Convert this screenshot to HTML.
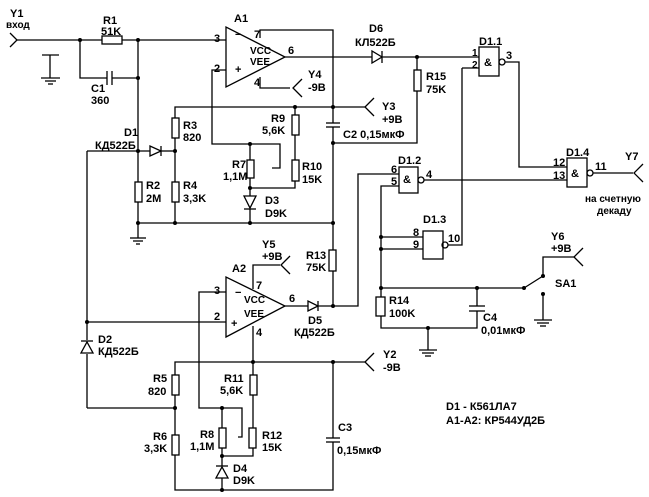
<!DOCTYPE html>
<html><head><meta charset="utf-8"><style>
html,body{margin:0;padding:0;background:#fff}
svg{display:block}
text{font-family:"Liberation Sans","DejaVu Sans",sans-serif;font-size:11px;font-weight:bold;fill:#000}
.s{font-size:10px}
</style></head><body>
<svg width="649" height="497" viewBox="0 0 649 497" xmlns="http://www.w3.org/2000/svg">
<g stroke="#000" stroke-width="1.3" fill="none">
<!-- Y1 input -->
<polyline points="10,33 17,40 10,47"/>
<line x1="17" y1="40" x2="102" y2="40"/>
<line x1="122" y1="40" x2="226" y2="40"/>
<rect x="102" y="36" width="20" height="8"/>
<!-- C1 -->
<polyline points="80,40 80,78 107,78"/>
<line x1="107" y1="71" x2="107" y2="85"/><line x1="112" y1="71" x2="112" y2="85"/>
<line x1="112" y1="78" x2="138" y2="78"/>
<line x1="138" y1="40" x2="138" y2="182"/>
<!-- stray ground -->
<line x1="42" y1="55" x2="59" y2="55"/><line x1="50" y1="55" x2="50" y2="78"/>
<line x1="41" y1="78" x2="60" y2="78"/><line x1="45" y1="81" x2="56" y2="81"/><line x1="48" y1="84" x2="53" y2="84"/>
<!-- A1 -->
<polygon points="226,27 226,87 285,57"/>
<polyline points="260,38 260,30 333,30 333,123"/>
<line x1="285" y1="57" x2="372" y2="57"/>
<polyline points="260,77 260,88 290,88"/>
<polyline points="302,79 293,88 302,97"/>
<polyline points="226,70 212,70 212,144 280,144 280,168 272,168"/>
<!-- D6 -->
<polygon points="372,51 372,63 382,57"/><line x1="382" y1="51" x2="382" y2="63"/>
<line x1="382" y1="57" x2="479" y2="57"/>
<polyline points="417,57 417,70"/><rect x="414" y="70" width="7" height="21"/>
<polyline points="417,91 417,143 333,143"/>
<!-- C2 -->
<line x1="326" y1="123" x2="340" y2="123"/><line x1="326" y1="127" x2="340" y2="127"/>
<line x1="333" y1="127" x2="333" y2="250"/>
<!-- Y3 line -->
<polyline points="175,118 175,107 365,107"/>
<polyline points="374,98 365,107 374,116"/>
<!-- R9, R10 -->
<line x1="295" y1="107" x2="295" y2="115"/><rect x="292" y="115" width="7" height="20"/>
<line x1="295" y1="135" x2="295" y2="160"/><rect x="292" y="160" width="7" height="21"/>
<polyline points="295,181 295,188 250,188"/>
<!-- R7 -->
<line x1="250" y1="144" x2="250" y2="160"/><rect x="247" y="160" width="7" height="18"/>
<line x1="250" y1="178" x2="250" y2="196"/>
<!-- D3 zener -->
<polygon points="244,196 256,196 250,208"/><line x1="244" y1="209" x2="256" y2="209"/>
<line x1="250" y1="209" x2="250" y2="223"/>
<line x1="138" y1="223" x2="333" y2="223"/>
<!-- D1 area -->
<line x1="87" y1="151" x2="150" y2="151"/>
<polygon points="150,146 150,156 161,151"/><line x1="161" y1="146" x2="161" y2="156"/>
<line x1="161" y1="151" x2="175" y2="151"/>
<rect x="172" y="118" width="7" height="20"/><line x1="175" y1="138" x2="175" y2="182"/>
<rect x="172" y="182" width="7" height="20"/><line x1="175" y1="202" x2="175" y2="223"/>
<rect x="135" y="182" width="7" height="20"/><line x1="138" y1="202" x2="138" y2="238"/>
<line x1="130" y1="238" x2="146" y2="238"/><line x1="133" y1="241" x2="143" y2="241"/><line x1="136" y1="244" x2="140" y2="244"/>
<line x1="87" y1="151" x2="87" y2="340"/>
<line x1="87" y1="354" x2="87" y2="408"/><line x1="87" y1="408" x2="175" y2="408"/>
<!-- D2 -->
<polygon points="81,353 93,353 87,342"/><line x1="81" y1="341" x2="93" y2="341"/>
<!-- A2 -->
<line x1="87" y1="322" x2="226" y2="322"/>
<polygon points="226,277 226,337 285,306"/>
<polyline points="253,289 253,265 280,265"/>
<polyline points="290,256 281,265 290,274"/>
<line x1="285" y1="306" x2="308" y2="306"/>
<polygon points="308,301 308,311 318,306"/><line x1="318" y1="301" x2="318" y2="311"/>
<polyline points="318,306 358,306 358,174 399,174"/>
<rect x="329" y="250" width="7" height="21"/><line x1="333" y1="271" x2="333" y2="306"/>
<polyline points="226,292 199,292 199,408 242,408 242,437 238,437"/>
<line x1="253" y1="326" x2="253" y2="375"/>
<polyline points="175,375 175,362 365,362"/>
<polyline points="374,353 365,362 374,371"/>
<rect x="250" y="375" width="7" height="20"/><line x1="253" y1="395" x2="253" y2="428"/>
<rect x="249" y="428" width="7" height="20"/><polyline points="253,448 253,456 222,456"/>
<line x1="222" y1="408" x2="222" y2="428"/><rect x="219" y="428" width="7" height="20"/><line x1="222" y1="448" x2="222" y2="466"/>
<polygon points="216,478 228,478 222,467"/><line x1="216" y1="466" x2="228" y2="466"/>
<line x1="222" y1="478" x2="222" y2="490"/>
<rect x="172" y="375" width="7" height="20"/><line x1="175" y1="395" x2="175" y2="435"/>
<rect x="172" y="435" width="7" height="20"/><polyline points="175,455 175,490 333,490 333,442"/>
<line x1="333" y1="362" x2="333" y2="438"/>
<line x1="326" y1="438" x2="340" y2="438"/><line x1="326" y1="442" x2="340" y2="442"/>
<!-- Gates -->
<rect x="479" y="47" width="20" height="29"/><circle cx="502" cy="62" r="3"/>
<line x1="479" y1="68" x2="462" y2="68"/><polyline points="462,68 462,245 448,245"/>
<polyline points="505,62 519,62 519,167 567,167"/>
<rect x="567" y="158" width="20" height="29"/><circle cx="590" cy="173" r="3"/>
<line x1="593" y1="173" x2="633" y2="173"/><polyline points="643,164 634,173 643,182"/>
<rect x="399" y="167" width="19" height="26"/><circle cx="421" cy="180" r="3"/>
<line x1="424" y1="180" x2="567" y2="180"/>
<polyline points="399,186 381,186 381,328 477,328 477,311"/>
<rect x="423" y="231" width="20" height="28"/><circle cx="445" cy="245" r="3"/>
<line x1="381" y1="237" x2="423" y2="237"/><line x1="381" y1="249" x2="423" y2="249"/>
<rect x="376" y="297" width="9" height="19" fill="#fff"/>
<line x1="381" y1="288" x2="524" y2="288"/>
<line x1="477" y1="288" x2="477" y2="306"/>
<line x1="469" y1="306" x2="485" y2="306"/><line x1="469" y1="311" x2="485" y2="311"/>
<line x1="428" y1="328" x2="428" y2="350"/>
<line x1="419" y1="350" x2="437" y2="350"/><line x1="422" y1="353" x2="434" y2="353"/><line x1="425" y1="356" x2="431" y2="356"/>
<!-- SA1 -->
<line x1="524" y1="288" x2="543" y2="276"/>
<polyline points="543,276 543,257 574,257"/><polyline points="583,248 574,257 583,266"/>
<line x1="543" y1="294" x2="543" y2="320"/>
<line x1="534" y1="320" x2="552" y2="320"/><line x1="537" y1="323" x2="549" y2="323"/><line x1="540" y1="326" x2="546" y2="326"/>
</g>
<g fill="#000">
<circle cx="80" cy="40" r="2"/><circle cx="138" cy="40" r="2"/><circle cx="138" cy="78" r="2"/>
<circle cx="138" cy="151" r="2"/><circle cx="175" cy="151" r="2"/><circle cx="138" cy="223" r="2"/><circle cx="175" cy="223" r="2"/><circle cx="250" cy="223" r="2"/>
<circle cx="333" cy="107" r="2"/><circle cx="295" cy="107" r="2"/><circle cx="333" cy="143" r="2"/><circle cx="333" cy="223" r="2"/>
<circle cx="250" cy="144" r="2"/><circle cx="250" cy="188" r="2"/><circle cx="417" cy="57" r="2"/>
<circle cx="87" cy="322" r="2"/><circle cx="333" cy="306" r="2"/><circle cx="253" cy="362" r="2"/><circle cx="333" cy="362" r="2"/>
<circle cx="175" cy="408" r="2"/><circle cx="222" cy="408" r="2"/><circle cx="222" cy="456" r="2"/><circle cx="222" cy="490" r="2"/>
<circle cx="381" cy="237" r="2"/><circle cx="381" cy="249" r="2"/><circle cx="381" cy="288" r="2"/><circle cx="477" cy="288" r="2"/><circle cx="428" cy="328" r="2"/>
<circle cx="524" cy="288" r="2"/><circle cx="543" cy="276" r="2"/><circle cx="543" cy="294" r="2"/>
</g>
<text x="10" y="17">Y1</text><text x="6" y="28" class="s">вход</text>
<text x="103" y="24">R1</text><text x="101" y="35">51K</text>
<text x="91" y="92">C1</text><text x="91" y="104">360</text>
<text x="234" y="22">A1</text><text x="214" y="42">3</text><text x="214" y="72">2</text>
<text x="254" y="38">7</text><text x="288" y="54">6</text><text x="254" y="86">4</text>
<text x="235" y="38" font-size="13">−</text><text x="235" y="73">+</text>
<text x="250" y="54" class="s">VCC</text><text x="250" y="65" class="s">VEE</text>
<text x="308" y="78">Y4</text><text x="308" y="91">-9B</text>
<text x="369" y="32">D6</text><text x="355" y="46">КЛ522Б</text>
<text x="426" y="80">R15</text><text x="426" y="93">75K</text>
<text x="382" y="110">Y3</text><text x="382" y="123">+9B</text>
<text x="343" y="138">C2 0,15мкФ</text>
<text x="271" y="122">R9</text><text x="262" y="134">5,6K</text>
<text x="302" y="170">R10</text><text x="302" y="183">15K</text>
<text x="232" y="168">R7</text><text x="223" y="180">1,1M</text>
<text x="265" y="204">D3</text><text x="265" y="217">D9K</text>
<text x="183" y="129">R3</text><text x="183" y="141">820</text>
<text x="124" y="136">D1</text><text x="95" y="149">КД522Б</text>
<text x="146" y="189">R2</text><text x="146" y="202">2M</text>
<text x="183" y="189">R4</text><text x="183" y="202">3,3K</text>
<text x="262" y="248">Y5</text><text x="262" y="260">+9B</text>
<text x="306" y="259">R13</text><text x="306" y="271">75K</text>
<text x="232" y="272">A2</text><text x="214" y="294">3</text><text x="214" y="320">2</text>
<text x="256" y="289">7</text><text x="289" y="302">6</text><text x="256" y="336">4</text>
<text x="235" y="296" font-size="13">−</text><text x="231" y="327">+</text>
<text x="244" y="303" class="s">VCC</text><text x="244" y="317" class="s">VEE</text>
<text x="308" y="324">D5</text><text x="294" y="336">КД522Б</text>
<text x="98" y="343">D2</text><text x="98" y="355">КД522Б</text>
<text x="153" y="382">R5</text><text x="148" y="395">820</text>
<text x="153" y="440">R6</text><text x="144" y="452">3,3K</text>
<text x="224" y="382">R11</text><text x="220" y="394">5,6K</text>
<text x="200" y="438">R8</text><text x="190" y="450">1,1M</text>
<text x="262" y="439">R12</text><text x="262" y="451">15K</text>
<text x="233" y="472">D4</text><text x="233" y="484">D9K</text>
<text x="383" y="358">Y2</text><text x="383" y="371">-9B</text>
<text x="338" y="431">C3</text><text x="337" y="454">0,15мкФ</text>
<text x="479" y="45">D1.1</text><text x="472" y="56" class="s">1</text><text x="472" y="68" class="s">2</text><text x="506" y="59">3</text>
<text x="484" y="66">&amp;</text>
<text x="566" y="156">D1.4</text><text x="553" y="166">12</text><text x="553" y="179">13</text><text x="595" y="170">11</text><text x="571" y="177">&amp;</text>
<text x="625" y="160">Y7</text>
<text x="585" y="202" class="s">на счетную</text><text x="597" y="214" class="s">декаду</text>
<text x="398" y="164">D1.2</text><text x="391" y="173">6</text><text x="391" y="185">5</text><text x="426" y="178">4</text><text x="403" y="183">&amp;</text>
<text x="423" y="223">D1.3</text><text x="413" y="236">8</text><text x="413" y="248">9</text><text x="448" y="242">10</text>
<text x="551" y="240">Y6</text><text x="551" y="252">+9B</text>
<text x="555" y="287">SA1</text>
<text x="389" y="304">R14</text><text x="389" y="317">100K</text>
<text x="483" y="321">C4</text><text x="481" y="334">0,01мкФ</text>
<text x="446" y="410">D1 - К561ЛА7</text><text x="446" y="424">A1-A2: КР544УД2Б</text>
</svg>
</body></html>
